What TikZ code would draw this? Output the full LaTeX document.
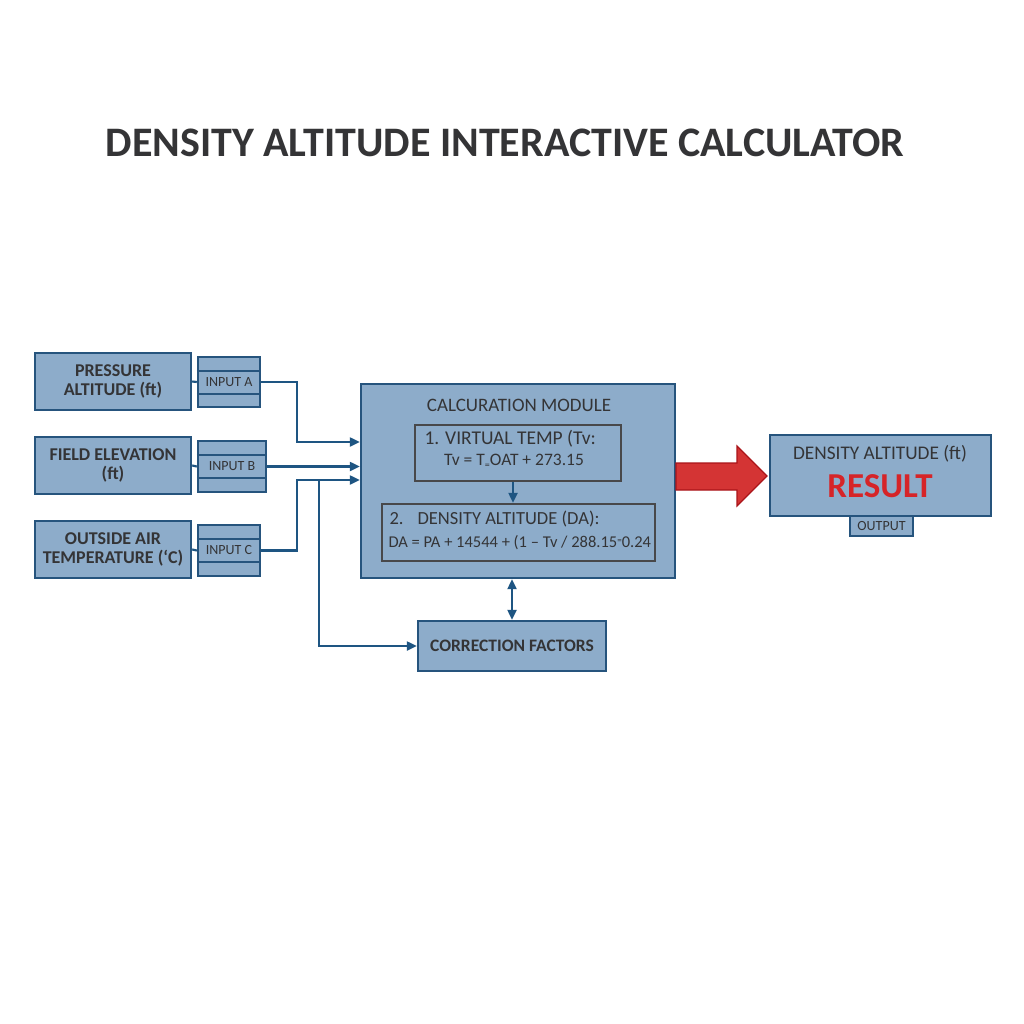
\documentclass[tikz,border=0pt]{standalone}
\usepackage{fontspec}
\setmainfont{Carlito}
\usetikzlibrary{arrows.meta,calc}
\definecolor{boxfill}{RGB}{141,172,202}
\definecolor{boxline}{RGB}{38,84,125}
\definecolor{conn}{RGB}{30,85,130}
\definecolor{txt}{RGB}{52,52,54}
\definecolor{resred}{RGB}{214,36,40}
\definecolor{arrred}{RGB}{212,52,52}
\definecolor{arredge}{RGB}{170,20,25}
\begin{document}
\begin{tikzpicture}[x=1pt,y=-1pt,
  blk/.style={draw=boxline, fill=boxfill, line width=2.4pt, inner sep=0pt, text=txt, align=center},
  inbox/.style={draw=txt!90, line width=2.4pt, inner sep=0pt, text=txt, align=left},
  conline/.style={draw=conn, line width=2.2pt},
  arr/.style={conline, -{Triangle[length=10pt,width=9pt]}},
  dbl/.style={conline, {Triangle[length=10pt,width=9pt]}-{Triangle[length=10pt,width=9pt]}},
  lbl/.style={font=\fontsize{18}{20}\selectfont\bfseries},
  tab/.style={font=\fontsize{14}{16}\selectfont}
]
\fill[white] (0,0) rectangle (1024,1024);
\useasboundingbox (0,0) rectangle (1024,1024);

\node[text=txt] (title) at (505,143) {\fontsize{42}{48}\selectfont\bfseries DENSITY ALTITUDE INTERACTIVE CALCULATOR};

% input boxes
\node[blk, minimum width=156pt, minimum height=57pt, lbl] (pa) at (113,381.5) {PRESSURE\\[-1pt]ALTITUDE (ft)};
\node[blk, minimum width=156pt, minimum height=57pt, lbl] (fe) at (113,465.5) {FIELD ELEVATION\\[-1pt](ft)};
\node[blk, minimum width=156pt, minimum height=57pt, lbl] (oat) at (113,549.5) {OUTSIDE AIR\\[-1pt]TEMPERATURE (‘C)};

\node[blk, minimum width=62pt, minimum height=50pt, tab] (ina) at (229,382) {INPUT A};
\node[blk, minimum width=68pt, minimum height=51pt, tab] (inb) at (232,466.5) {INPUT B};
\node[blk, minimum width=62pt, minimum height=51pt, tab] (inc) at (229,550.5) {INPUT C};
\foreach \n in {ina,inb,inc}{
  \draw[draw=boxline, line width=2pt] ($(\n.north west)!0.29!(\n.south west)$) -- ($(\n.north east)!0.29!(\n.south east)$);
  \draw[draw=boxline, line width=2pt] ($(\n.north west)!0.72!(\n.south west)$) -- ($(\n.north east)!0.72!(\n.south east)$);
}
\draw[conline] (pa.east) -- (ina.west);
\draw[conline] (fe.east) -- (inb.west);
\draw[conline] (oat.east) -- (inc.west);

% module
\node[blk, minimum width=314pt, minimum height=194pt] (mod) at (518,481) {};
\node[text=txt, font=\fontsize{19}{21}\selectfont] (modt) at (519,405) {CALCURATION MODULE};
\node[inbox, minimum width=206pt, minimum height=56pt] (b1) at (518,453) {};
\node[text=txt, font=\fontsize{19.5}{21}\selectfont, anchor=west] (b1a) at (421,439) {1. VIRTUAL TEMP (Tv:};
\node[text=txt, font=\fontsize{17.5}{19}\selectfont] (b1b) at (514,461) {Tv = T\raisebox{-0.35ex}{\fontsize{10}{10}\selectfont=}OAT + 273.15};
\node[inbox, minimum width=273pt, minimum height=57pt] (b2) at (518.5,532.5) {};
\node[text=txt, font=\fontsize{18.5}{20}\selectfont, anchor=west] (b2a) at (386,519) {2.\hspace{14pt}DENSITY ALTITUDE (DA):};
\node[text=txt, font=\fontsize{16.5}{19}\selectfont, anchor=west] (b2b) at (385,543) {DA = PA + 14544 + (1 – Tv / 288.15\raisebox{0.6ex}{\fontsize{9}{9}\selectfont=}0.24};
\coordinate (b1s) at ($(b1.south)+(-5,0)$);
\draw[arr] (b1s) -- (b1s |- b2.north);

% connectors into module
\coordinate (ja) at (297,442);
\coordinate (jc) at (297,480);
\coordinate (jb) at (319,480);
\draw[arr] (ina.east) -| (ja) -- (ja -| mod.west);
\draw[arr] (inb.east) -- (inb.east -| mod.west);
\draw[arr] (inc.east) -| (jc) -- (jc -| mod.west);

% correction factors
\node[blk, minimum width=188pt, minimum height=50pt, font=\fontsize{17.5}{19}\selectfont\bfseries] (cf) at (512,646) {CORRECTION FACTORS};
\draw[arr] (jb) |- (cf.west);
\draw[dbl] (cf.north |- mod.south) -- (cf.north);

% red arrow
\draw[fill=arrred, draw=arredge, line width=1.2pt, line join=miter]
  (676,463) -- (737,463) -- (737,446) -- (767,476) -- (737,506) -- (737,490) -- (676,490) -- cycle;

% result
\node[blk, minimum width=221pt, minimum height=81pt] (res) at (880.5,475.5) {};
\node[text=txt, font=\fontsize{19.3}{21}\selectfont] (rest) at (880,454) {DENSITY ALTITUDE (ft)};
\node[text=resred, font=\fontsize{35}{37}\selectfont\bfseries] (resv) at (880,486) {RESULT};
\node[blk, minimum width=63pt, minimum height=20pt, line width=2pt, tab] (out) at (881.5,526) {OUTPUT};
\end{tikzpicture}
\end{document}
